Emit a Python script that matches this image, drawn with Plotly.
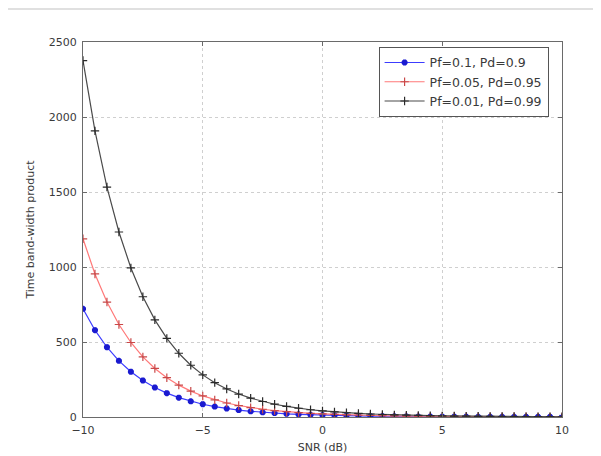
import plotly.graph_objects as go

snr_db = [-10, -9.5, -9, -8.5, -8, -7.5, -7, -6.5, -6, -5.5, -5, -4.5, -4, -3.5, -3, -2.5, -2, -1.5, -1, -0.5,
          0, 0.5, 1, 1.5, 2, 2.5, 3, 3.5, 4, 4.5, 5, 5.5, 6, 6.5, 7, 7.5, 8, 8.5, 9, 9.5, 10]

tbw_01_09 = [721.2, 578.9, 465.2, 374.3, 301.6, 243.3, 196.6, 159.1, 128.9, 104.7, 85.2, 69.5, 56.8, 46.5, 38.1,
             31.4, 25.9, 21.4, 17.7, 14.7, 12.3, 10.2, 8.6, 7.2, 6.1, 5.1, 4.3, 3.7, 3.1, 2.6, 2.3, 1.9, 1.7,
             1.4, 1.2, 1.1, 0.9, 0.8, 0.7, 0.6, 0.5]
tbw_005_095 = [1188.0, 953.6, 766.4, 616.6, 496.8, 400.8, 323.8, 262.0, 212.4, 172.5, 140.4, 114.4, 93.5, 76.5,
               62.8, 51.7, 42.6, 35.2, 29.2, 24.2, 20.2, 16.9, 14.1, 11.8, 10.0, 8.4, 7.1, 6.0, 5.1, 4.4, 3.7,
               3.2, 2.7, 2.3, 2.0, 1.7, 1.5, 1.3, 1.1, 1.0, 0.8]
tbw_001_099 = [2376.3, 1907.6, 1533.0, 1233.4, 993.7, 801.7, 647.7, 524.1, 424.9, 345.1, 280.8, 228.9, 187.0,
               153.1, 125.7, 103.4, 85.2, 70.5, 58.4, 48.5, 40.4, 33.7, 28.2, 23.7, 19.9, 16.8, 14.2, 12.0, 10.2,
               8.7, 7.4, 6.4, 5.4, 4.7, 4.0, 3.5, 3.0, 2.6, 2.2, 1.9, 1.7]

names = ["Pf=0.1, Pd=0.9", "Pf=0.05, Pd=0.95", "Pf=0.01, Pd=0.99"]
x_ticks = [-10, -5, 0, 5, 10]
y_ticks = [0, 500, 1000, 1500, 2000, 2500]

FONT = "DejaVu Sans, Arial"
TXT = "#3a3a3a"

fig = go.Figure()
fig.add_trace(go.Scatter(x=snr_db, y=tbw_01_09, name=names[0], mode="lines+markers",
                         line=dict(color="#3c3cff", width=1.2),
                         marker=dict(symbol="asterisk-open", size=5, color="#1a1ad0",
                                     line=dict(color="#1a1ad0", width=2.2))))
fig.add_trace(go.Scatter(x=snr_db, y=tbw_005_095, name=names[1], mode="lines+markers",
                         line=dict(color="#ff7878", width=1.2),
                         marker=dict(symbol="cross-thin-open", size=6, color="#c84848",
                                     line=dict(color="#c84848", width=1.2))))
fig.add_trace(go.Scatter(x=snr_db, y=tbw_001_099, name=names[2], mode="lines+markers",
                         line=dict(color="#4a4a4a", width=1.2),
                         marker=dict(symbol="cross-thin-open", size=6, color="#2a2a2a",
                                     line=dict(color="#2a2a2a", width=1.2))))

axis_common = dict(showline=True, linecolor="#6a6a6a", linewidth=1.2, mirror="ticks",
                   ticks="inside", ticklen=4, tickcolor="#6a6a6a",
                   showgrid=True, gridcolor="#cfcfcf", griddash="dot", gridwidth=1,
                   zeroline=False, tickfont=dict(family=FONT, size=11, color=TXT))

fig.update_xaxes(range=[-10, 10], tickvals=x_ticks, ticklabelstandoff=3,
                 title=dict(text="SNR (dB)", font=dict(family=FONT, size=11, color=TXT), standoff=7),
                 **axis_common)
fig.update_yaxes(range=[0, 2500], tickvals=y_ticks, ticklabelstandoff=3,
                 title=dict(text="Time band-width product",
                            font=dict(family=FONT, size=11, color=TXT), standoff=11),
                 **axis_common)

fig.add_shape(type="line", xref="paper", yref="paper", x0=-0.157, x1=1.081, y0=1.088, y1=1.088,
              line=dict(color="#e0e0e0", width=2))

fig.update_layout(
    width=601, height=456,
    margin=dict(l=75, r=47, t=34, b=47),
    paper_bgcolor="white", plot_bgcolor="white",
    showlegend=True,
    legend=dict(x=0.972, y=0.987, xanchor="right", yanchor="top",
                bgcolor="white", bordercolor="#555555", borderwidth=1,
                font=dict(family=FONT, size=12.5, color=TXT),
                tracegroupgap=0, itemwidth=40),
)

fig.write_html("out.html")
